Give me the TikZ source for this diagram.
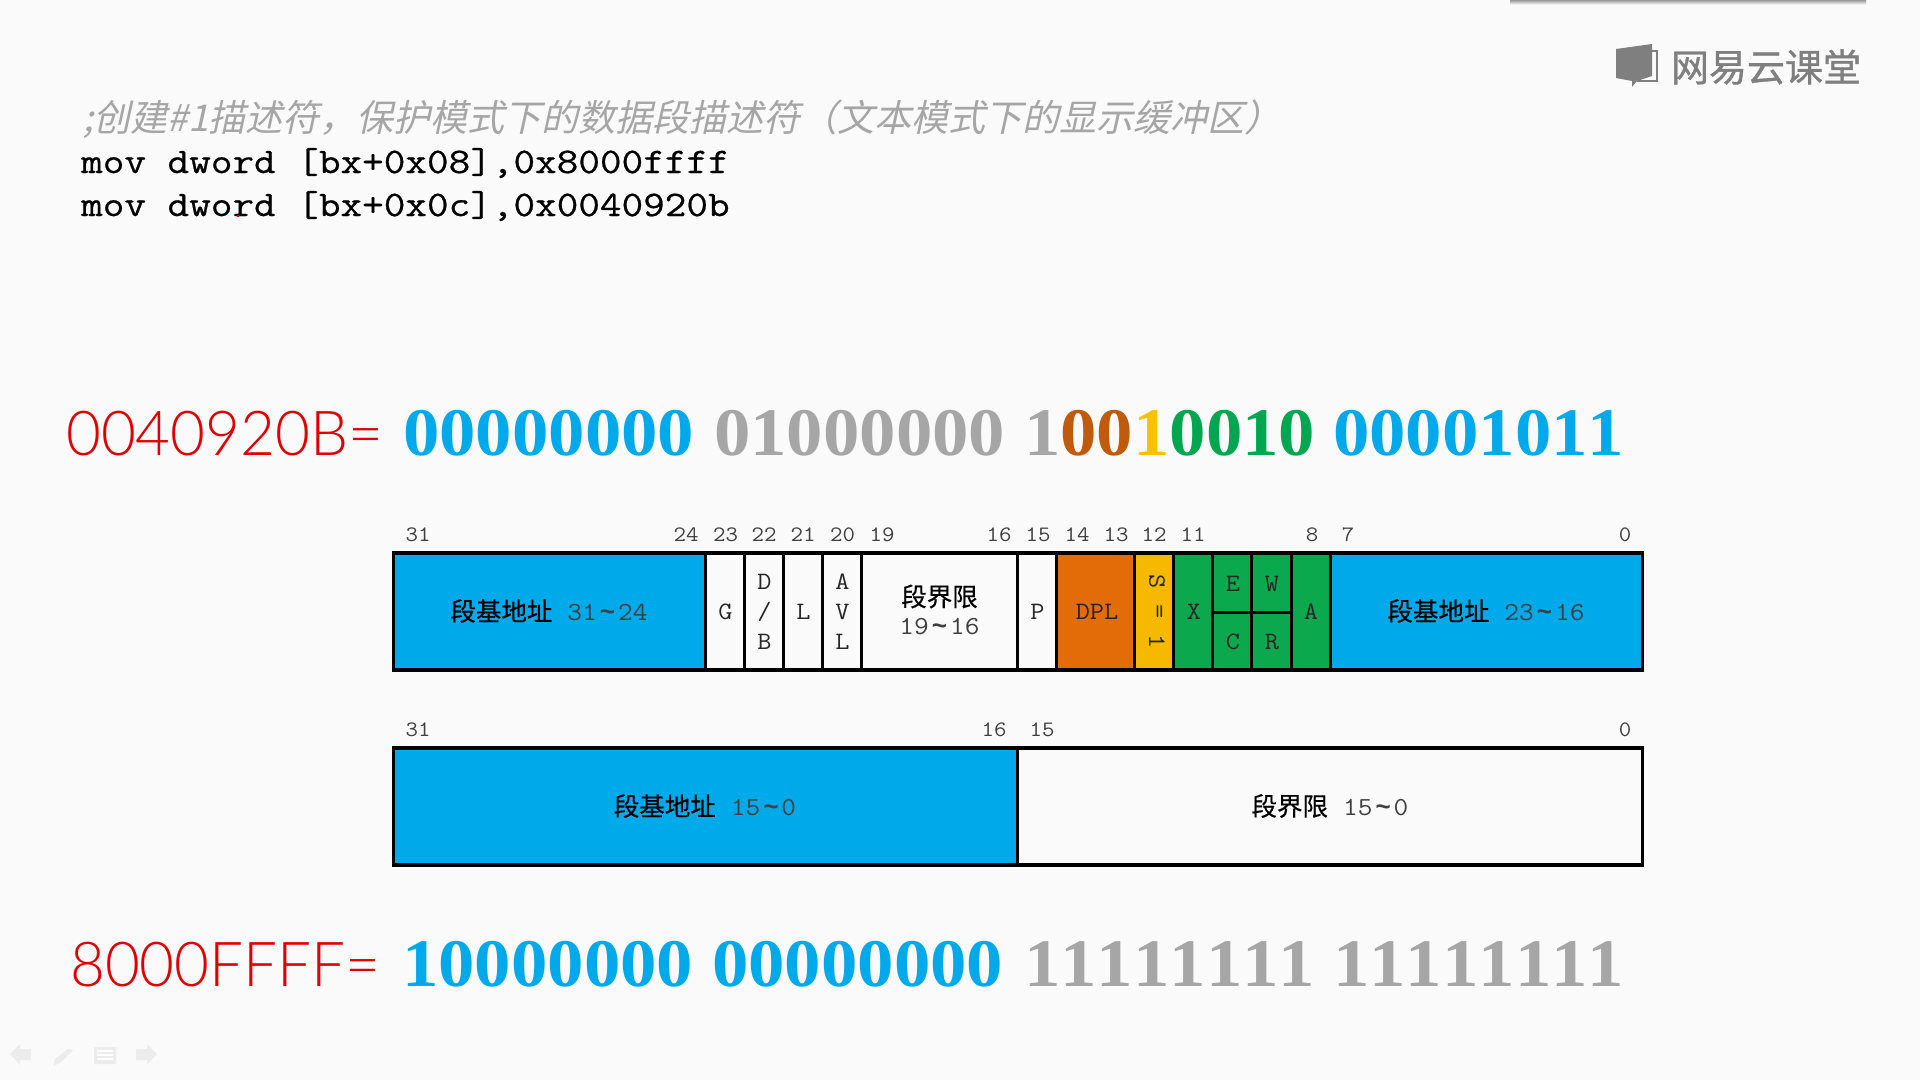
\documentclass[tikz,border=0pt]{standalone}
\usepackage{fontspec}
\setmainfont{Liberation Serif}
\newfontfamily\binfont[Kerning=Off,FakeStretch=1.07]{Liberation Serif Bold}
\newfontfamily\cjkfont{Noto Sans CJK SC}
\newfontfamily\cjkcell[FakeBold=0.4]{Noto Sans CJK SC}
\newfontfamily\cjklogo[FakeBold=1]{Noto Sans CJK SC}
\newfontfamily\cjkslant[FakeSlant=0.22]{Noto Sans CJK SC}
\newfontfamily\monofont[FakeStretch=1.1]{Latin Modern Mono}
\newfontfamily\codefont[FakeStretch=1.166,FakeBold=0.6]{Latin Modern Mono}
\newfontfamily\hexfont[FakeStretch=0.97]{Lato Light}
\newfontfamily\tldfont{Liberation Sans Bold}
\definecolor{pagebg}{HTML}{FAFAFA}
\definecolor{segblue}{HTML}{00A9EA}
\definecolor{segorange}{HTML}{E36C09}
\definecolor{segyellow}{HTML}{F7B900}
\definecolor{seggreen}{HTML}{0BA84E}
\definecolor{seggray}{HTML}{A6A6A6}
\definecolor{binbrown}{HTML}{C05A0C}
\definecolor{binyellow}{HTML}{FFC000}
\definecolor{bingreen}{HTML}{00A650}
\definecolor{binred}{HTML}{E00000}
\definecolor{logogray}{HTML}{7F7F7F}
\definecolor{ctrl}{HTML}{ECECEC}
\definecolor{digitgray}{HTML}{404040}
\tikzset{
 cellbox/.style={draw=black,line width=3pt,inner sep=0pt,outer sep=0pt,anchor=north west},
 framebox/.style={draw=black,line width=3.4pt,inner sep=0pt,outer sep=0pt,anchor=north west,fill=none},
 bitnum/.style={inner sep=0pt,font=\monofont\fontsize{22}{22}\selectfont,text=digitgray},
 letter/.style={inner sep=0pt,font=\monofont\fontsize{25}{25}\selectfont,text=black!85},
 binword/.style={inner sep=0pt,anchor=base west,font=\binfont\fontsize{68}{68}\selectfont},
 hexword/.style={inner sep=0pt,anchor=base west,font=\hexfont\fontsize{62}{62}\selectfont,text=binred},
 codeline/.style={inner sep=0pt,anchor=base west,font=\codefont\fontsize{36}{36}\selectfont,text=black},
}
\newcommand\tld{\hspace{3pt}{\tldfont\fontsize{26}{26}\selectfont\symbol{126}}\hspace{3pt}}
\newcommand\segtext[2]{{\cjkcell\fontsize{25.5}{25.5}\selectfont\color{black}#1}\hspace{15pt}{\monofont\fontsize{26}{26}\selectfont\color{digitgray}#2}}
% name, x0, x1, y0, y1, fill
\newcommand\cellat[6]{\node[cellbox,fill=#6,minimum width=#3pt-#2pt,minimum height=#5pt-#4pt] (#1) at (#2,#4) {};}
\begin{document}
\begin{tikzpicture}[x=1pt,y=-1pt]
\useasboundingbox (0,0) rectangle (1920,1080);
\fill[pagebg] (0,0) rectangle (1920,1080);
% top shadow strip
\shade[top color=gray!80,bottom color=pagebg] (1510,0) rectangle (1866,4.5);
% logo
\fill[logogray] (1616,49) -- (1652,44) -- (1652,76) -- (1637,81) -- (1632,87) -- (1632,81) -- (1616,78) -- cycle;
\draw[logogray,line width=1.6pt] (1652,51) -- (1657,51) -- (1657,81) -- (1637,81);
\node[inner sep=0pt,text=logogray,font=\cjklogo\fontsize{38}{38}\selectfont] (logo) at (1766,67) {网易云课堂};
% code
\node[inner sep=0pt,anchor=base west,text=seggray,font=\cjkslant\fontsize{37}{37}\selectfont] (comment) at (83,131) {;创建\#1描述符，保护模式下的数据段描述符（文本模式下的显示缓冲区）};
\node[codeline] (code1) at (81,173) {mov dword [bx+0x08],0x8000ffff};
\node[codeline] (code2) at (81,216) {mov dword [bx+0x0c],0x0040920b};
\fill[red!80!black] (236.5,215) rectangle (238.5,217);
% hex and binary lines
\node[hexword] (hexa) at (66,455) {0040920B=};
\node[binword,text=segblue] (b1) at (403,455) {00000000};
\node[binword,text=seggray] (b2) at (714,455) {01000000};
\node[binword] (b3) at (1024,455) {\textcolor{seggray}{1}\textcolor{binbrown}{00}\textcolor{binyellow}{1}\textcolor{bingreen}{0010}};
\node[binword,text=segblue] (b4) at (1333,455) {00001011};
\node[hexword] (hexb) at (70,986) {8000FFFF=};
\node[binword,text=segblue] (c1) at (402,986) {10000000};
\node[binword,text=segblue] (c2) at (712,986) {00000000};
\node[binword,text=seggray] (c3) at (1024,986) {11111111};
\node[binword,text=seggray] (c4) at (1333,986) {11111111};
% upper bar cells
\cellat{base3}{393.4}{705}{553}{670}{segblue}
\cellat{g}{705}{744.3}{553}{670}{pagebg}
\cellat{db}{744.3}{783}{553}{670}{pagebg}
\cellat{l}{783}{822.4}{553}{670}{pagebg}
\cellat{avl}{822.4}{861.7}{553}{670}{pagebg}
\cellat{lim2}{861.7}{1017.4}{553}{670}{pagebg}
\cellat{p}{1017.4}{1056.8}{553}{670}{pagebg}
\cellat{dpl}{1056.8}{1134.9}{553}{670}{segorange}
\cellat{s}{1134.9}{1173.5}{553}{670}{segyellow}
\cellat{x}{1173.5}{1212.5}{553}{670}{seggreen}
\cellat{e}{1212.5}{1251.5}{553}{612}{seggreen}
\cellat{w}{1251.5}{1291}{553}{612}{seggreen}
\cellat{c}{1212.5}{1251.5}{612}{670}{seggreen}
\cellat{r}{1251.5}{1291}{612}{670}{seggreen}
\cellat{a}{1291}{1330}{553}{670}{seggreen}
\cellat{base2}{1330}{1642.7}{553}{670}{segblue}
\node[framebox,minimum width=1249.3pt,minimum height=117pt] (upper) at (393.4,553) {};
% lower bar cells
\cellat{base1}{393.4}{1017.4}{748}{865}{segblue}
\cellat{lim1}{1017.4}{1642.7}{748}{865}{pagebg}
\node[framebox,minimum width=1249.3pt,minimum height=117pt] (lower) at (393.4,748) {};
% cell text
\node[inner sep=0pt] (t1) at (549,611) {\segtext{段基地址}{31\tld 24}};
\node[letter] (tg) at (725.5,612) {G};
\node[letter] (td1) at (764.5,582) {D};
\node[letter] (td2) at (764.5,612) {/};
\node[letter] (td3) at (764.5,642) {B};
\node[letter] (tl) at (803.5,612) {L};
\node[letter] (ta1) at (842.5,582) {A};
\node[letter] (ta2) at (842.5,612) {V};
\node[letter] (ta3) at (842.5,642) {L};
\node[inner sep=0pt,font=\cjkcell\fontsize{25.5}{25.5}\selectfont] (tlim) at (939.5,596.5) {段界限};
\node[inner sep=0pt,font=\monofont\fontsize{26}{26}\selectfont,text=digitgray] (tlimd) at (939.5,627) {19\tld 16};
\node[letter] (tp) at (1037.5,612) {P};
\node[letter] (tdpl) at (1097,612) {DPL};
\node[letter,rotate=-90] (ts1) at (1157,582) {S};
\node[letter,rotate=-90] (ts2) at (1157,612) {=};
\node[letter,rotate=-90] (ts3) at (1157,642) {1};
\node[letter] (tx) at (1194,612) {X};
\node[letter] (te) at (1233,584) {E};
\node[letter] (tw) at (1272,584) {W};
\node[letter] (tc) at (1233,642) {C};
\node[letter] (tr) at (1272,642) {R};
\node[letter] (ta) at (1311,612) {A};
\node[inner sep=0pt] (t2) at (1486,611) {\segtext{段基地址}{23\tld 16}};
\node[inner sep=0pt] (t3) at (705,806) {\segtext{段基地址}{15\tld 0}};
\node[inner sep=0pt] (t4) at (1330,806) {\segtext{段界限}{15\tld 0}};
% bit numbers
\foreach \n/\lab/\xx in {n31/31/418,n24/24/686,n23/23/725.5,n22/22/764,n21/21/803,n20/20/842.5,n19/19/882,n16/16/999,n15/15/1038,n14/14/1077,n13/13/1116,n12/12/1154,n11/11/1193,n8/8/1312,n7/7/1348,n0/0/1625}
  \node[bitnum] (\n) at (\xx,535) {\lab};
\foreach \n/\lab/\xx in {m31/31/418,m16/16/994,m15/15/1042,m0/0/1625}
  \node[bitnum] (\n) at (\xx,730) {\lab};
% slide controls
\fill[ctrl] (10,1054) -- (20,1044) -- (20,1049) -- (31,1049) -- (31,1060) -- (20,1060) -- (20,1065) -- cycle;
\fill[ctrl] (53,1066) -- (55,1059) -- (68,1049) -- (73,1050) -- (60,1063) -- cycle;
\fill[ctrl,rounded corners=1pt] (94,1047) rectangle (116,1064);
\draw[white,line width=1.2pt] (97,1051) -- (113,1051) (97,1055) -- (113,1055) (97,1059) -- (113,1059);
\fill[ctrl] (157,1054) -- (147,1044) -- (147,1049) -- (136,1049) -- (136,1060) -- (147,1060) -- (147,1065) -- cycle;
\end{tikzpicture}
\end{document}
